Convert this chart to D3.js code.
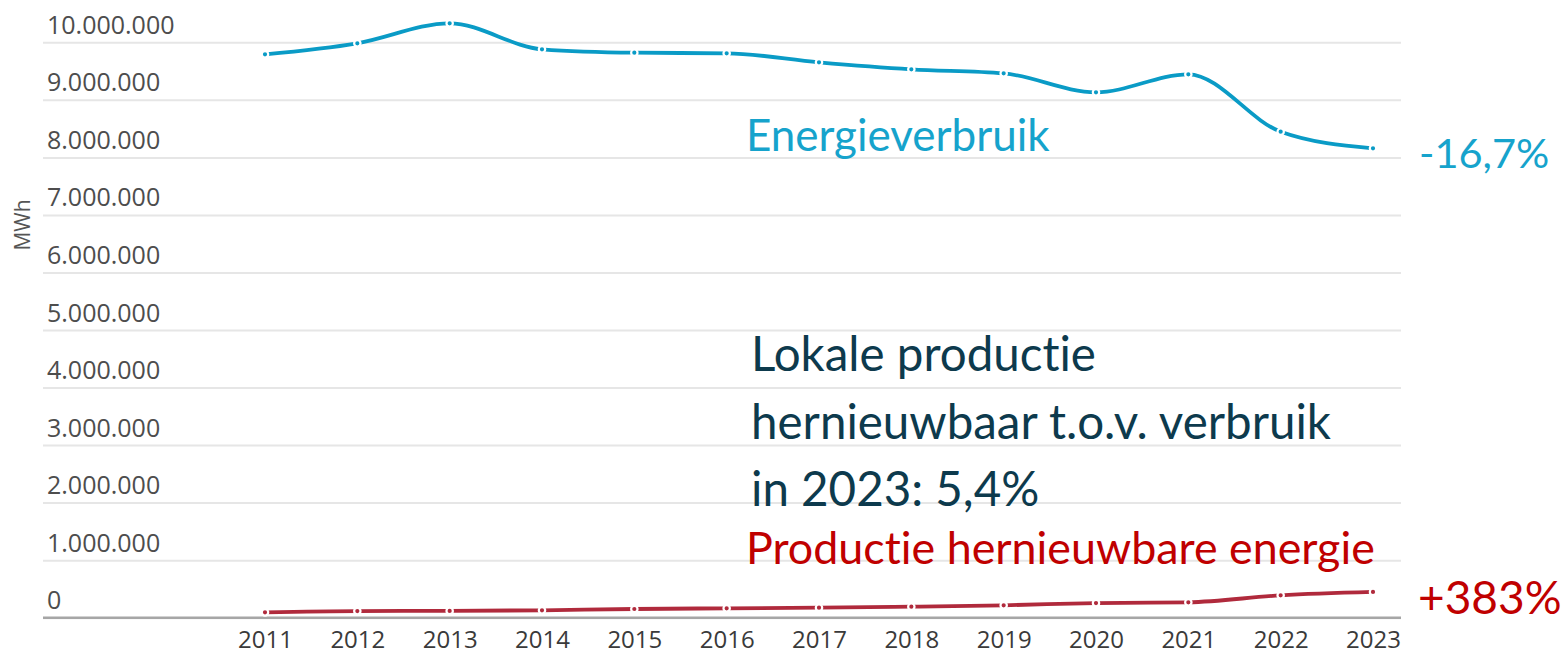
<!DOCTYPE html>
<html>
<head>
<meta charset="utf-8">
<script src="https://cdn.jsdelivr.net/npm/d3@7"></script>
<style>
  html, body { margin: 0; padding: 0; background: #fff; }
  svg { display: block; }
  text { font-variant-ligatures: none; font-feature-settings: "liga" 0, "clig" 0; }
</style>
</head>
<body>
<svg id="chart" width="1564" height="655"></svg>
<script>
// ---- data ----
const years = [2011, 2012, 2013, 2014, 2015, 2016, 2017, 2018, 2019, 2020, 2021, 2022, 2023];
const energieverbruik = [9791000, 9983000, 10330000, 9878000, 9819000, 9809000, 9652000, 9531000, 9461000, 9131000, 9444000, 8446000, 8158000];
const productieHernieuwbaar = [93000, 116000, 118000, 129000, 151000, 163000, 174000, 191000, 215000, 255000, 268000, 389000, 448000];
const yTicks = [0, 1000000, 2000000, 3000000, 4000000, 5000000, 6000000, 7000000, 8000000, 9000000, 10000000];
const yAxisTitle = "MWh";
const labelVerbruik = "Energieverbruik";
const labelProductie = "Productie hernieuwbare energie";
const labelAandeel = ["Lokale productie", "hernieuwbaar t.o.v. verbruik", "in 2023: 5,4%"];
const changeVerbruik = "-16,7%";
const changeProductie = "+383%";

// ---- setup ----
const svg = d3.select("#chart");
const plotLeft = 43, plotRight = 1401;
const x = d3.scaleLinear().domain([2011, 2023]).range([265, 1373]);
const y = d3.scaleLinear().domain([0, 10000000]).range([617.7, 42.3]);

const nl = d3.formatLocale({ decimal: ",", thousands: ".", grouping: [3], currency: ["", ""] });
const fmt = nl.format(",");

// y gridlines + labels
const yAxis = d3.axisRight(y)
  .tickValues(yTicks)
  .tickSize(plotRight - plotLeft)
  .tickFormat(fmt);
const gy = svg.append("g")
  .attr("transform", `translate(${plotLeft},0)`)
  .call(yAxis);
gy.select(".domain").remove();
gy.selectAll(".tick line").attr("stroke", "#e6e6e6").attr("stroke-width", 2);
gy.selectAll(".tick text")
  .attr("x", 4)
  .attr("y", -9)
  .attr("dy", 0)
  .attr("text-anchor", "start")
  .attr("fill", "#4d4d4d")
  .style("font-family", "'Open Sans', sans-serif")
  .style("font-size", "25px");

// x axis (labels only) + baseline
const xAxis = d3.axisBottom(x)
  .tickValues(years)
  .tickSize(0)
  .tickFormat(d3.format("d"));
const gx = svg.append("g")
  .attr("transform", `translate(0,${y(0)})`)
  .call(xAxis);
gx.select(".domain").remove();
gx.selectAll(".tick text")
  .attr("y", 30)
  .attr("dy", 0)
  .attr("fill", "#3a3a3a")
  .style("font-family", "'Open Sans', sans-serif")
  .style("font-size", "24px");

svg.append("line")
  .attr("x1", plotLeft).attr("x2", plotRight)
  .attr("y1", y(0)).attr("y2", y(0))
  .attr("stroke", "#a6a6a6").attr("stroke-width", 2.5);

// y axis title
svg.append("text")
  .attr("transform", `translate(30,225) rotate(-90)`)
  .attr("text-anchor", "middle")
  .attr("fill", "#555")
  .style("font-family", "'Open Sans', sans-serif")
  .style("font-size", "21px")
  .text(yAxisTitle);

// series
const line = d3.line()
  .x((d, i) => x(years[i]))
  .y(d => y(d))
  .curve(d3.curveMonotoneX);

function drawSeries(values, color) {
  svg.append("path")
    .datum(values)
    .attr("d", line)
    .attr("fill", "none")
    .attr("stroke", color)
    .attr("stroke-width", 3.8)
    .attr("stroke-linejoin", "round");
  svg.append("g").selectAll("circle")
    .data(values)
    .join("circle")
    .attr("cx", (d, i) => x(years[i]))
    .attr("cy", d => y(d))
    .attr("r", 3.2)
    .attr("fill", color)
    .attr("stroke", "#fff")
    .attr("stroke-width", 2.2);
}
drawSeries(energieverbruik, "#0a9bc6");
drawSeries(productieHernieuwbaar, "#b02a3c");

// annotations
const annFont = "Lato, 'Open Sans', sans-serif";
svg.append("text")
  .attr("x", 746).attr("y", 151)
  .attr("fill", "#16a3cc")
  .style("font-family", annFont).style("font-size", "44px")
  .text(labelVerbruik);

svg.append("text")
  .attr("x", 1419).attr("y", 168)
  .attr("fill", "#16a3cc")
  .style("font-family", annFont).style("font-size", "41.5px")
  .text(changeVerbruik);

const aand = svg.append("text")
  .attr("fill", "#0d3a4d")
  .style("font-family", annFont).style("font-size", "47.5px");
labelAandeel.forEach((t, i) => {
  aand.append("tspan").attr("x", 751).attr("y", 371 + i * 67.5).text(t);
});

svg.append("text")
  .attr("x", 746).attr("y", 564)
  .attr("fill", "#c00000")
  .style("font-family", annFont).style("font-size", "44.8px")
  .text(labelProductie);

svg.append("text")
  .attr("x", 1418).attr("y", 614)
  .attr("fill", "#c00000")
  .style("font-family", annFont).style("font-size", "46px")
  .text(changeProductie);
</script>
</body>
</html>
